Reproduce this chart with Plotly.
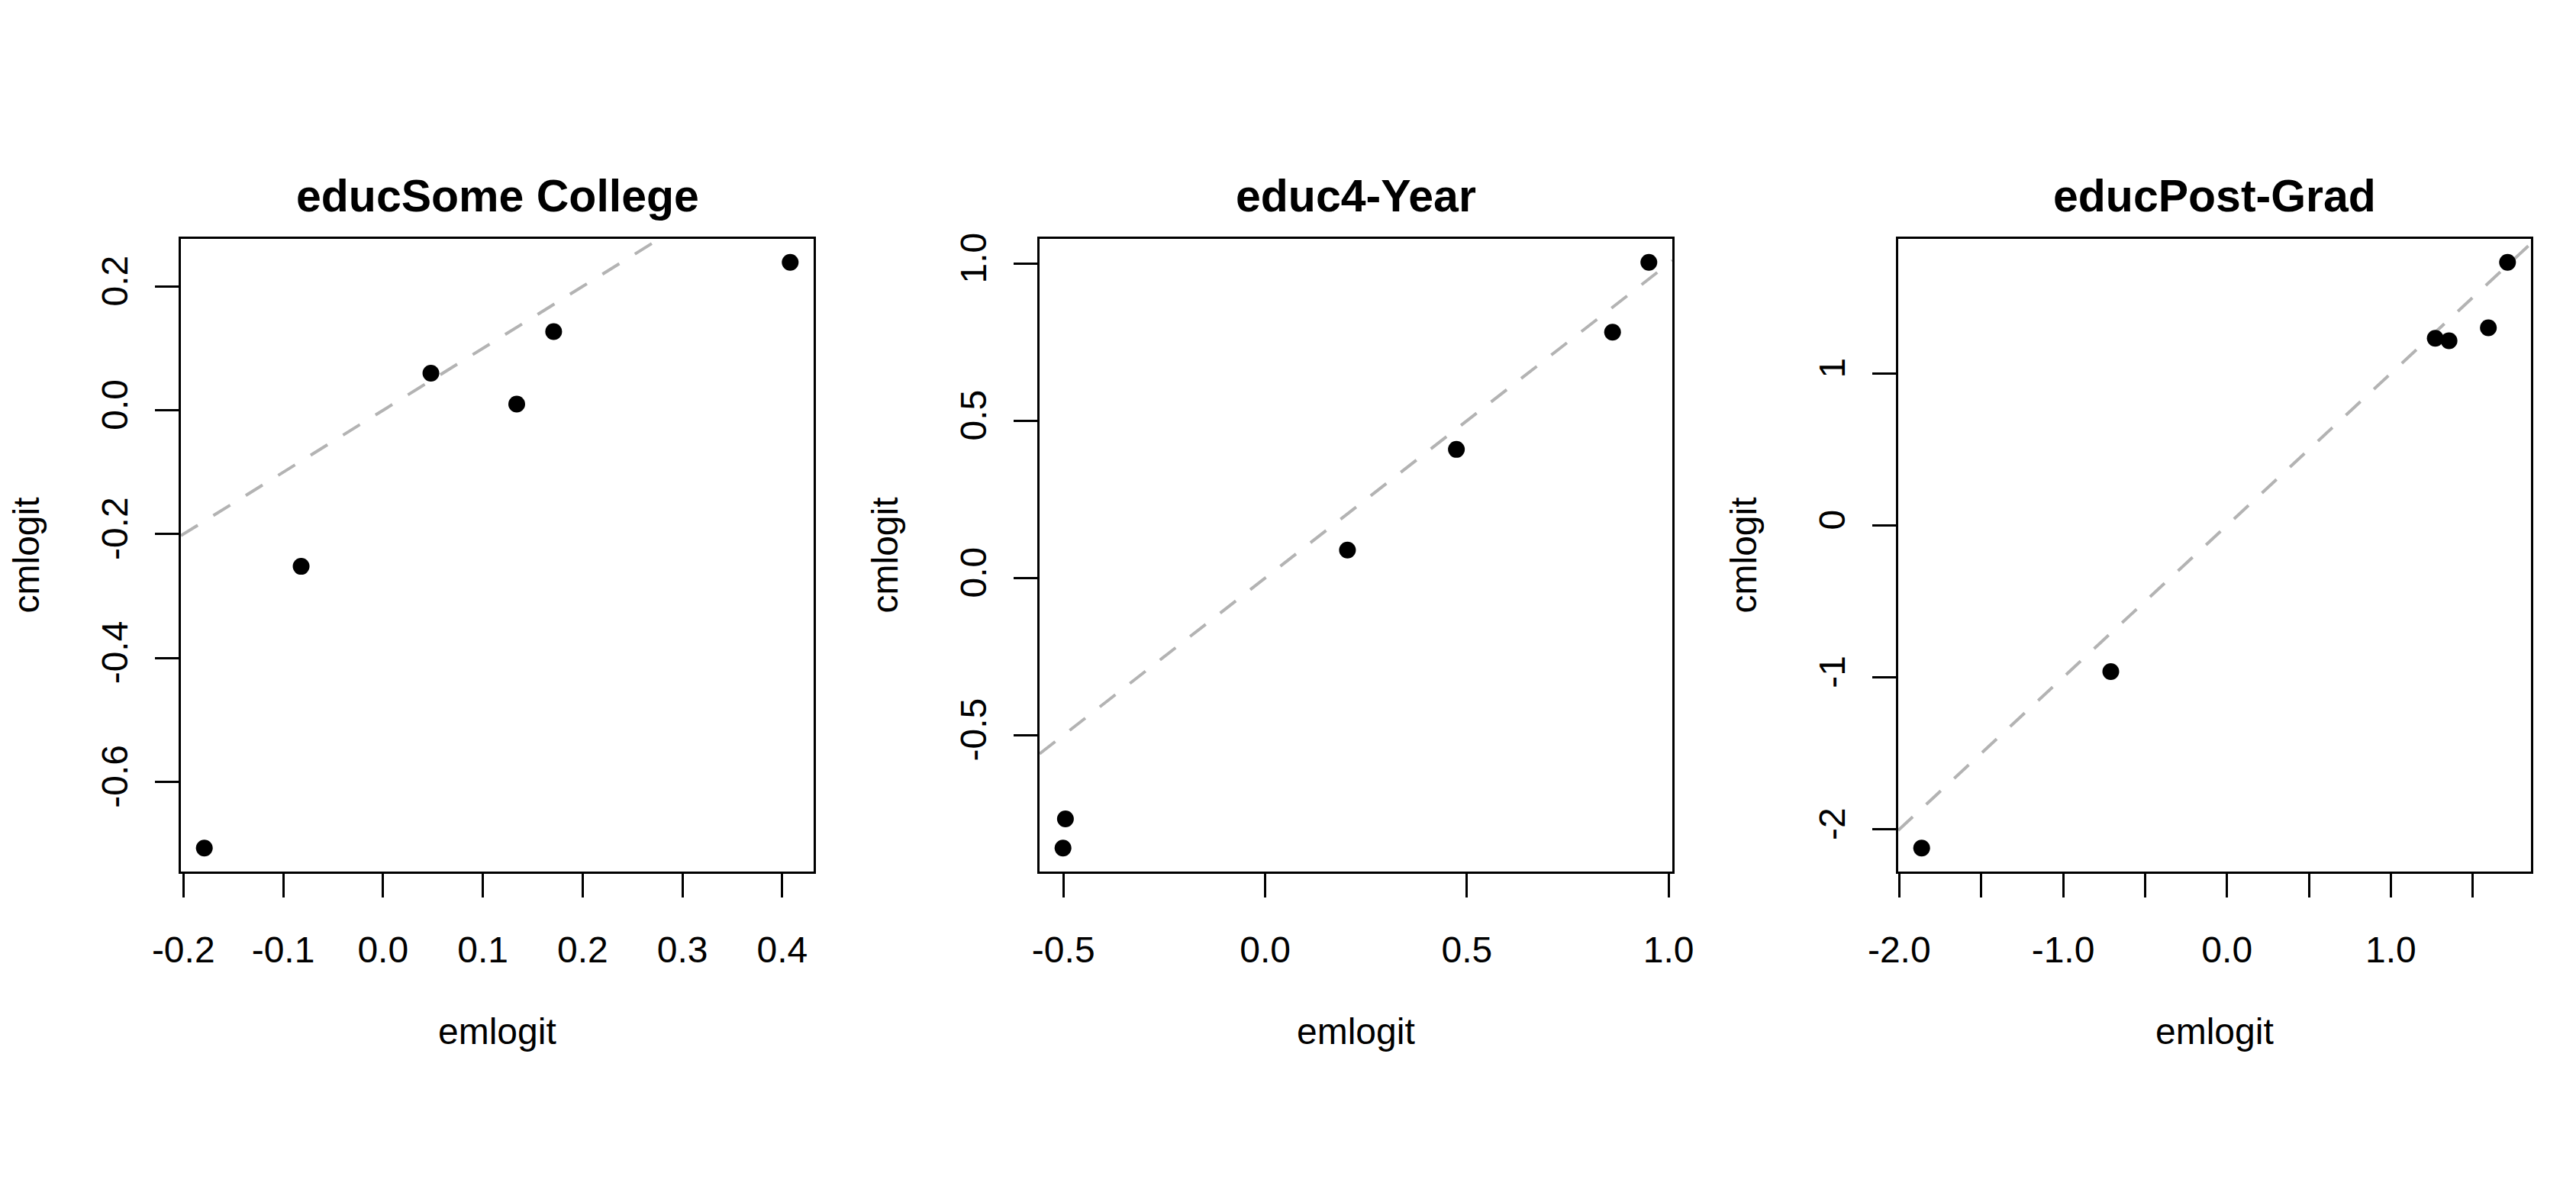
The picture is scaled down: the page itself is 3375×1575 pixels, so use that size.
import plotly.graph_objects as go

# ---------------- data ----------------
titles = ["educSome College", "educ4-Year", "educPost-Grad"]

emlogit_some = [-0.179, -0.082, 0.048, 0.134, 0.171, 0.408]
cmlogit_some = [-0.707, -0.252, 0.060, 0.010, 0.127, 0.239]

emlogit_4yr = [-0.501, -0.495, 0.204, 0.474, 0.861, 0.951]
cmlogit_4yr = [-0.859, -0.766, 0.089, 0.409, 0.782, 1.004]

emlogit_post = [-1.863, -0.709, 1.271, 1.355, 1.595, 1.712]
cmlogit_post = [-2.123, -0.962, 1.231, 1.215, 1.300, 1.731]

xticks_some = [-0.2, -0.1, 0.0, 0.1, 0.2, 0.3, 0.4]
xlabels_some = ["-0.2", "-0.1", "0.0", "0.1", "0.2", "0.3", "0.4"]
yticks_some = [-0.6, -0.4, -0.2, 0.0, 0.2]
ylabels_some = ["-0.6", "-0.4", "-0.2", "0.0", "0.2"]

xticks_4yr = [-0.5, 0.0, 0.5, 1.0]
xlabels_4yr = ["-0.5", "0.0", "0.5", "1.0"]
yticks_4yr = [-0.5, 0.0, 0.5, 1.0]
ylabels_4yr = ["-0.5", "0.0", "0.5", "1.0"]

xticks_post = [-2.0, -1.5, -1.0, -0.5, 0.0, 0.5, 1.0, 1.5]
xlabels_post = ["-2.0", "", "-1.0", "", "0.0", "", "1.0", ""]
yticks_post = [-2, -1, 0, 1]
ylabels_post = ["-2", "-1", "0", "1"]

x_title = "emlogit"
y_title = "cmlogit"

panels = [
    (emlogit_some, cmlogit_some, xticks_some, xlabels_some, yticks_some, ylabels_some),
    (emlogit_4yr, cmlogit_4yr, xticks_4yr, xlabels_4yr, yticks_4yr, ylabels_4yr),
    (emlogit_post, cmlogit_post, xticks_post, xlabels_post, yticks_post, ylabels_post),
]

# ---------------- layout geometry (pixels) ----------------
W, H = 3375, 1575
PANEL_W = 1125
BOX_L, BOX_R = 237, 1066
BOX_T, BOX_B = 313, 1142
FONT = "Liberation Sans, Arial, Helvetica, sans-serif"
TICK_SIZE = 48
TITLE_SIZE = 59
LW = 3


def r_range(v):
    lo, hi = min(v), max(v)
    d = (hi - lo) * 0.04
    return [lo - d, hi + d]


fig = go.Figure()
annotations = []
layout = dict(
    template="none",
    width=W, height=H, autosize=False,
    margin=dict(l=0, r=0, t=0, b=0, pad=0, autoexpand=False),
    paper_bgcolor="white", plot_bgcolor="white",
    showlegend=False,
    font=dict(family=FONT, size=TICK_SIZE, color="black"),
)

for k, (xs, ys, xt, xl, yt, yl) in enumerate(panels):
    sfx = "" if k == 0 else str(k + 1)
    xr = r_range(xs)
    yr = r_range(ys)
    x0 = (BOX_L + k * PANEL_W) / W
    x1 = (BOX_R + k * PANEL_W) / W
    ydom = [1 - BOX_B / H, 1 - BOX_T / H]

    # identity reference line (abline(0, 1)), clipped to plot region
    fig.add_trace(go.Scatter(
        x=xr, y=xr, mode="lines",
        line=dict(color="#B3B3B3", width=4, dash="26px,24px"),
        xaxis="x" + sfx, yaxis="y" + sfx, hoverinfo="skip",
    ))
    fig.add_trace(go.Scatter(
        x=xs, y=ys, mode="markers",
        marker=dict(color="black", size=22, line=dict(width=0)),
        xaxis="x" + sfx, yaxis="y" + sfx, cliponaxis=False,
    ))

    common = dict(
        showline=True, mirror=True, linecolor="black", linewidth=LW,
        ticks="outside", ticklen=31, tickwidth=LW, tickcolor="black",
        showgrid=False, zeroline=False, tickmode="array", automargin=False,
        tickfont=dict(family=FONT, size=TICK_SIZE, color="black"),
    )
    layout["xaxis" + sfx] = dict(
        domain=[x0, x1], range=xr, anchor="y" + sfx,
        tickvals=xt, ticktext=xl, ticklabelstandoff=27, **common,
    )
    layout["yaxis" + sfx] = dict(
        domain=ydom, range=yr, anchor="x" + sfx,
        tickvals=yt, ticktext=yl, tickangle=-90, ticklabelstandoff=17, **common,
    )

    cx = (BOX_L + BOX_R) / 2 + k * PANEL_W
    annotations.append(dict(
        text=titles[k], x=cx / W, y=1 - 257 / H, xref="paper", yref="paper",
        xanchor="center", yanchor="middle", showarrow=False,
        font=dict(family=FONT, size=TITLE_SIZE, color="black", weight="bold"),
    ))
    annotations.append(dict(
        text=x_title, x=cx / W, y=1 - 1351 / H, xref="paper", yref="paper",
        xanchor="center", yanchor="middle", showarrow=False,
        font=dict(family=FONT, size=TICK_SIZE, color="black"),
    ))
    annotations.append(dict(
        text=y_title, x=(34 + k * PANEL_W) / W, y=1 - ((BOX_T + BOX_B) / 2) / H,
        xref="paper", yref="paper", textangle=-90,
        xanchor="center", yanchor="middle", showarrow=False,
        font=dict(family=FONT, size=TICK_SIZE, color="black"),
    ))

layout["annotations"] = annotations
fig.update_layout(**layout)
fig.write_html(
    "out.html",
    config={"displayModeBar": False, "staticPlot": True},
    post_script="document.body.style.margin='0px';document.body.style.overflow='hidden';",
)
